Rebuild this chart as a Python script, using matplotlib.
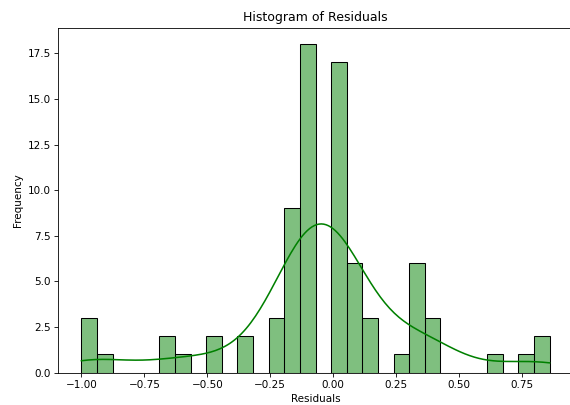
import matplotlib
matplotlib.use('Agg')

import numpy as np
import matplotlib.pyplot as plt
import seaborn as sns

# residuals (30 bins between -1.00 and 0.86)
residuals = [
    -1.00, -0.96, -0.945,
    -0.90,
    -0.66, -0.64,
    -0.60,
    -0.48, -0.46,
    -0.35, -0.33,
    -0.23, -0.215, -0.20,
    -0.175, -0.17, -0.165, -0.16, -0.155, -0.15, -0.145, -0.14, -0.135,
    -0.11, -0.105, -0.10, -0.098, -0.096, -0.094, -0.092, -0.09, -0.088,
    -0.086, -0.084, -0.082, -0.08, -0.078, -0.076, -0.075, -0.074, -0.072,
    -0.006, -0.004, -0.002, 0.0, 0.002, 0.004, 0.006, 0.008, 0.01,
    0.012, 0.014, 0.016, 0.018, 0.02, 0.022, 0.025, 0.03,
    0.058, 0.062, 0.068, 0.075, 0.085, 0.095,
    0.12, 0.13, 0.145,
    0.28,
    0.31, 0.32, 0.33, 0.34, 0.35, 0.36,
    0.37, 0.39, 0.41,
    0.64,
    0.77,
    0.83, 0.86,
]
n_bins = 30

fig = plt.figure(figsize=(7.6, 5.4), dpi=75)  # 570 x 405
ax = fig.add_axes([58/570, 32.3/405, 515/570, 345/405])

sns.histplot(np.array(residuals), bins=n_bins, kde=True, color='green', ax=ax)

ax.set_title('Histogram of Residuals')
ax.set_xlabel('Residuals')
ax.set_ylabel('Frequency')

plt.savefig('out.png', dpi=75)
